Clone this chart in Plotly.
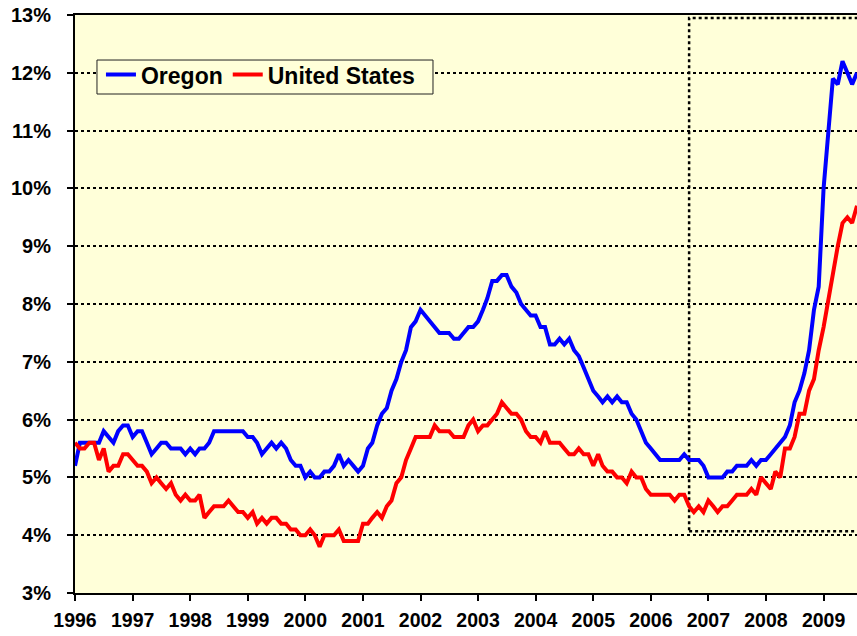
import pandas as pd
import plotly.graph_objects as go

months = pd.date_range("1996-01-01", periods=164, freq="MS")

oregon = [
    5.2, 5.6, 5.6, 5.6, 5.6, 5.6, 5.8, 5.7, 5.6, 5.8, 5.9, 5.9,   # 1996
    5.7, 5.8, 5.8, 5.6, 5.4, 5.5, 5.6, 5.6, 5.5, 5.5, 5.5, 5.4,   # 1997
    5.5, 5.4, 5.5, 5.5, 5.6, 5.8, 5.8, 5.8, 5.8, 5.8, 5.8, 5.8,   # 1998
    5.7, 5.7, 5.6, 5.4, 5.5, 5.6, 5.5, 5.6, 5.5, 5.3, 5.2, 5.2,   # 1999
    5.0, 5.1, 5.0, 5.0, 5.1, 5.1, 5.2, 5.4, 5.2, 5.3, 5.2, 5.1,   # 2000
    5.2, 5.5, 5.6, 5.9, 6.1, 6.2, 6.5, 6.7, 7.0, 7.2, 7.6, 7.7,   # 2001
    7.9, 7.8, 7.7, 7.6, 7.5, 7.5, 7.5, 7.4, 7.4, 7.5, 7.6, 7.6,   # 2002
    7.7, 7.9, 8.1, 8.4, 8.4, 8.5, 8.5, 8.3, 8.2, 8.0, 7.9, 7.8,   # 2003
    7.8, 7.6, 7.6, 7.3, 7.3, 7.4, 7.3, 7.4, 7.2, 7.1, 6.9, 6.7,   # 2004
    6.5, 6.4, 6.3, 6.4, 6.3, 6.4, 6.3, 6.3, 6.1, 6.0, 5.8, 5.6,   # 2005
    5.5, 5.4, 5.3, 5.3, 5.3, 5.3, 5.3, 5.4, 5.3, 5.3, 5.3, 5.2,   # 2006
    5.0, 5.0, 5.0, 5.0, 5.1, 5.1, 5.2, 5.2, 5.2, 5.3, 5.2, 5.3,   # 2007
    5.3, 5.4, 5.5, 5.6, 5.7, 5.9, 6.3, 6.5, 6.8, 7.2, 7.9, 8.3,   # 2008
    10.0, 11.0, 11.9, 11.8, 12.2, 12.0, 11.8, 12.0,               # 2009
]

united_states = [
    5.6, 5.5, 5.5, 5.6, 5.6, 5.3, 5.5, 5.1, 5.2, 5.2, 5.4, 5.4,   # 1996
    5.3, 5.2, 5.2, 5.1, 4.9, 5.0, 4.9, 4.8, 4.9, 4.7, 4.6, 4.7,   # 1997
    4.6, 4.6, 4.7, 4.3, 4.4, 4.5, 4.5, 4.5, 4.6, 4.5, 4.4, 4.4,   # 1998
    4.3, 4.4, 4.2, 4.3, 4.2, 4.3, 4.3, 4.2, 4.2, 4.1, 4.1, 4.0,   # 1999
    4.0, 4.1, 4.0, 3.8, 4.0, 4.0, 4.0, 4.1, 3.9, 3.9, 3.9, 3.9,   # 2000
    4.2, 4.2, 4.3, 4.4, 4.3, 4.5, 4.6, 4.9, 5.0, 5.3, 5.5, 5.7,   # 2001
    5.7, 5.7, 5.7, 5.9, 5.8, 5.8, 5.8, 5.7, 5.7, 5.7, 5.9, 6.0,   # 2002
    5.8, 5.9, 5.9, 6.0, 6.1, 6.3, 6.2, 6.1, 6.1, 6.0, 5.8, 5.7,   # 2003
    5.7, 5.6, 5.8, 5.6, 5.6, 5.6, 5.5, 5.4, 5.4, 5.5, 5.4, 5.4,   # 2004
    5.2, 5.4, 5.2, 5.1, 5.1, 5.0, 5.0, 4.9, 5.1, 5.0, 5.0, 4.8,   # 2005
    4.7, 4.7, 4.7, 4.7, 4.7, 4.6, 4.7, 4.7, 4.5, 4.4, 4.5, 4.4,   # 2006
    4.6, 4.5, 4.4, 4.5, 4.5, 4.6, 4.7, 4.7, 4.7, 4.8, 4.7, 5.0,   # 2007
    4.9, 4.8, 5.1, 5.0, 5.5, 5.5, 5.7, 6.1, 6.1, 6.5, 6.7, 7.2,   # 2008
    7.6, 8.1, 8.5, 9.0, 9.4, 9.5, 9.4, 9.7,                       # 2009
]

year_ticks = [f"{y}-01-01" for y in range(1996, 2010)]
year_labels = [str(y) for y in range(1996, 2010)]
pct_ticks = list(range(3, 14))
pct_labels = [f"{v}%" for v in pct_ticks]

FONT = "Liberation Sans, Arial, sans-serif"
BG = "#FFFFD9"

fig = go.Figure()
fig.add_trace(go.Scatter(x=months, y=oregon, mode="lines", name="Oregon",
                         line=dict(color="#0000FF", width=4)))
fig.add_trace(go.Scatter(x=months, y=united_states, mode="lines", name="United States",
                         line=dict(color="#FF0000", width=4)))

# dotted highlight box (recession period)
fig.add_shape(type="rect", xref="x", yref="y",
              x0="2006-09-01", x1="2010-12-01", y0=4.07, y1=12.95,
              line=dict(color="black", width=2.5, dash="dot"), layer="below")
# opaque legend frame (covers the gridline behind the legend)
fig.add_shape(type="rect", xref="paper", yref="paper",
              x0=0.0281, x1=0.4578, y0=0.8633, y1=0.9221,
              line=dict(color="#222222", width=1), fillcolor=BG, layer="above")

fig.update_layout(
    width=857, height=636,
    margin=dict(l=75, r=0, t=15, b=43, autoexpand=False),
    paper_bgcolor="white",
    plot_bgcolor=BG,
    showlegend=True,
    legend=dict(
        orientation="h", x=0.0332, y=0.934, xanchor="left", yanchor="top",
        bgcolor="rgba(0,0,0,0)", borderwidth=0,
        font=dict(family=FONT, size=23, color="black", weight="bold"),
        itemwidth=30, tracegroupgap=0,
    ),
    xaxis=dict(
        type="date", range=["1996-01-01", "2009-08-01"],
        tickvals=year_ticks, ticktext=year_labels,
        showgrid=False, zeroline=False, automargin=False,
        showline=True, linecolor="black", linewidth=2, mirror=True,
        ticks="outside", ticklen=6, tickcolor="black", tickwidth=1.5,
        ticklabelstandoff=3,
        tickfont=dict(family=FONT, size=19.5, color="black", weight="bold"),
    ),
    yaxis=dict(
        range=[3, 13], tickvals=pct_ticks, ticktext=pct_labels,
        showgrid=True, gridcolor="black", gridwidth=2, griddash="3px,3px",
        zeroline=False, automargin=False,
        showline=True, linecolor="black", linewidth=2,
        ticks="outside", ticklen=6, tickcolor="black", tickwidth=1.5,
        ticklabelstandoff=12,
        tickfont=dict(family=FONT, size=20, color="black", weight="bold"),
    ),
)

fig.write_html(
    "out.html",
    config={"displayModeBar": False},
    post_script="document.body.style.margin='0';document.body.style.overflow='hidden';",
)
